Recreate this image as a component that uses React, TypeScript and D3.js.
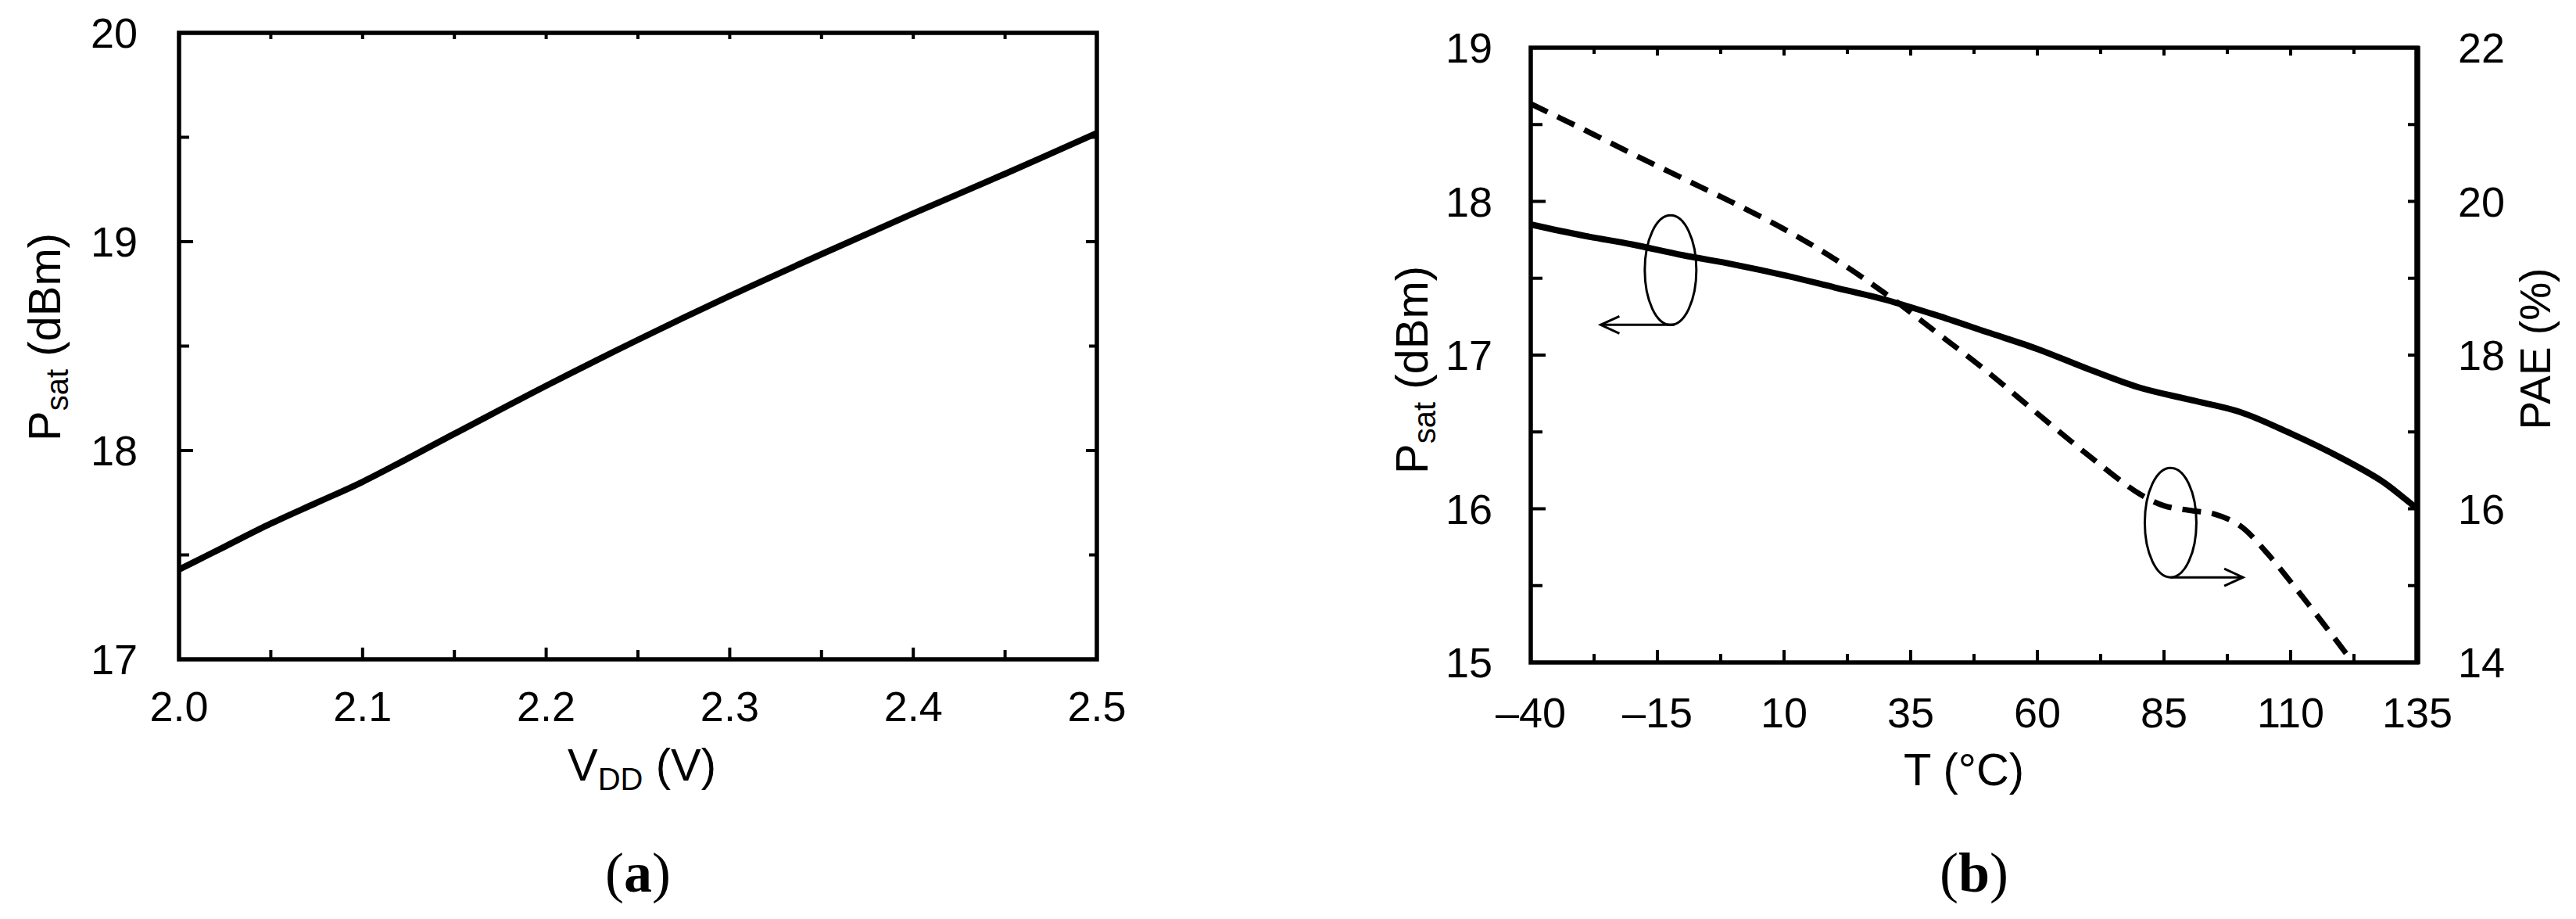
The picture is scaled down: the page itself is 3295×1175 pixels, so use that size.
import React from "react";
import * as d3 from "d3";

// ---------- Data: panel (a) ----------
const VDD = [2.0, 2.025, 2.05, 2.075, 2.1, 2.15, 2.2, 2.25, 2.3, 2.35, 2.4, 2.45, 2.5];
const PSAT_A = [17.43, 17.54, 17.65, 17.75, 17.85, 18.08, 18.31, 18.53, 18.74, 18.94, 19.135, 19.325, 19.52];
const A_XTICKS = [2.0, 2.05, 2.1, 2.15, 2.2, 2.25, 2.3, 2.35, 2.4, 2.45, 2.5];
const A_XLABELS = ["2.0", "2.1", "2.2", "2.3", "2.4", "2.5"];
const A_YTICKS = [17, 17.5, 18, 18.5, 19, 19.5, 20];
const A_YLABELS = [17, 18, 19, 20];

// ---------- Data: panel (b) ----------
const TEMP_PSAT = [-40, -30, -20, -10, 0, 10, 20, 30, 40, 50, 60, 70, 80, 90, 100, 110, 120, 128, 132, 135];
const PSAT_B = [17.85, 17.78, 17.72, 17.65, 17.59, 17.52, 17.44, 17.36, 17.26, 17.15, 17.04, 16.91, 16.79, 16.71, 16.63, 16.49, 16.33, 16.18, 16.08, 16.0];
const TEMP_PAE = [-40, -30, -20, -10, 0, 10, 20, 30, 40, 50, 60, 70, 80, 85, 90, 95, 100, 105, 110, 115, 120, 122.3];
const PAE = [21.27, 20.95, 20.62, 20.3, 19.98, 19.64, 19.25, 18.8, 18.3, 17.79, 17.24, 16.7, 16.2, 16.04, 15.98, 15.93, 15.78, 15.45, 15.05, 14.63, 14.2, 14.0];
const B_XTICKS = [-40, -27.5, -15, -2.5, 10, 22.5, 35, 47.5, 60, 72.5, 85, 97.5, 110, 122.5, 135];
const B_XLABELS = [-40, -15, 10, 35, 60, 85, 110, 135];
const B_YTICKS = [15, 15.5, 16, 16.5, 17, 17.5, 18, 18.5, 19];
const B_YLABELS = [15, 16, 17, 18, 19];
const B_Y2TICKS = [14, 15, 16, 17, 18, 19, 20, 21, 22];
const B_Y2LABELS = [14, 16, 18, 20, 22];

// annotation ellipses (data units: T, Psat) and arrow tips (T)
const ANNOT_T = [-12.4, 86.3];
const ANNOT_P = [17.553, 15.91];
const ANNOT_TIP = [-26.2, 100.6];

const FONT = "'Liberation Sans', Arial, Helvetica, sans-serif";
const TICK_FS = 54;
const TITLE_FS = 58;

const fmtT = (v: number) => (v < 0 ? "\u2013" + Math.abs(v) : String(v));

export default function App() {
  // scales (a)
  const xa = d3.scaleLinear().domain([2.0, 2.5]).range([229, 1403]);
  const ya = d3.scaleLinear().domain([17, 20]).range([843, 42]);
  // scales (b)
  const xb = d3.scaleLinear().domain([-40, 135]).range([1958, 3092]);
  const yb = d3.scaleLinear().domain([15, 19]).range([847, 61]);
  const yb2 = d3.scaleLinear().domain([14, 22]).range([847, 61]);

  const lineA = d3
    .line<number>()
    .x((_, i) => xa(VDD[i]))
    .y((d) => ya(d))
    .curve(d3.curveCatmullRom.alpha(0.5));
  const lineB = d3
    .line<number>()
    .x((_, i) => xb(TEMP_PSAT[i]))
    .y((d) => yb(d))
    .curve(d3.curveCatmullRom.alpha(0.5));
  const lineB2 = d3
    .line<number>()
    .x((_, i) => xb(TEMP_PAE[i]))
    .y((d) => yb2(d))
    .curve(d3.curveCatmullRom.alpha(0.5));

  const isMult = (v: number, m: number) => Math.abs(v / m - Math.round(v / m)) < 1e-6;

  const [ax0, ax1] = xa.range();
  const [ay0, ay1] = ya.range(); // bottom, top
  const [bx0, bx1] = xb.range();
  const [by0, by1] = yb.range();

  const tickStroke = 4;
  const axisStroke = 5.5;

  return (
    <svg
      width={3295}
      height={1175}
      style={{ position: "absolute", left: 0, top: 0, background: "#fff" }}
      fontFamily={FONT}
    >
      <rect x={0} y={0} width={3295} height={1175} fill="#fff" />

      {/* ================= Panel (a) ================= */}
      <g stroke="#000" strokeWidth={tickStroke}>
        {A_XTICKS.map((v) => {
          const major = isMult(v, 0.1);
          return (
            <g key={"axt" + v}>
              <line x1={xa(v)} x2={xa(v)} y1={ay0} y2={ay0 - (major ? 15 : 12)} />
              <line x1={xa(v)} x2={xa(v)} y1={ay1} y2={ay1 + 8} />
            </g>
          );
        })}
        {A_YTICKS.map((v) => {
          const major = isMult(v, 1);
          return (
            <g key={"ayt" + v}>
              <line x1={ax0} x2={ax0 + (major ? 18 : 13)} y1={ya(v)} y2={ya(v)} />
              <line x1={ax1} x2={ax1 - (major ? 14 : 10)} y1={ya(v)} y2={ya(v)} />
            </g>
          );
        })}
      </g>
      <rect
        x={ax0}
        y={ay1}
        width={ax1 - ax0}
        height={ay0 - ay1}
        fill="none"
        stroke="#000"
        strokeWidth={axisStroke}
      />
      <path d={lineA(PSAT_A) || ""} fill="none" stroke="#000" strokeWidth={8} strokeLinejoin="round" />

      {A_XLABELS.map((s) => (
        <text key={"axl" + s} x={xa(+s)} y={922} fontSize={TICK_FS} textAnchor="middle" fill="#000">
          {s}
        </text>
      ))}
      {A_YLABELS.map((v) => (
        <text key={"ayl" + v} x={176} y={ya(v)} fontSize={TICK_FS} textAnchor="end" dominantBaseline="central" fill="#000">
          {v}
        </text>
      ))}
      <text x={(ax0 + ax1) / 2 + 5} y={998} fontSize={TITLE_FS} textAnchor="middle" fill="#000">
        V
        <tspan fontSize={40} dy={12}>DD</tspan>
        <tspan dy={-12}> (V)</tspan>
      </text>
      <text
        transform={`translate(77, 431) rotate(-90)`}
        fontSize={TITLE_FS}
        textAnchor="middle"
        fill="#000"
      >
        P<tspan fontSize={40} dy={10}>sat</tspan>
        <tspan dy={-10}> (dBm)</tspan>
      </text>
      <text x={(ax0 + ax1) / 2} y={1140} fontSize={72} textAnchor="middle" fontFamily="'Liberation Serif', 'Times New Roman', serif" fill="#000">
        (<tspan fontWeight="bold">a</tspan>)
      </text>

      {/* ================= Panel (b) ================= */}
      <g stroke="#000" strokeWidth={tickStroke}>
        {B_XTICKS.map((v) => {
          const major = isMult(v + 40, 25);
          return (
            <g key={"bxt" + v}>
              <line x1={xb(v)} x2={xb(v)} y1={by0} y2={by0 - (major ? 16 : 11)} />
              <line x1={xb(v)} x2={xb(v)} y1={by1} y2={by1 + (major ? 10 : 8)} />
            </g>
          );
        })}
        {B_YTICKS.map((v) => {
          const major = isMult(v, 1);
          return <line key={"byt" + v} x1={bx0} x2={bx0 + (major ? 19 : 15)} y1={yb(v)} y2={yb(v)} />;
        })}
        {B_Y2TICKS.map((v) => (
          <line key={"by2t" + v} x1={bx1} x2={bx1 - 12} y1={yb2(v)} y2={yb2(v)} />
        ))}
      </g>
      <rect
        x={bx0}
        y={by1}
        width={bx1 - bx0}
        height={by0 - by1}
        fill="none"
        stroke="#000"
        strokeWidth={axisStroke}
      />
      <line x1={bx1} x2={bx1} y1={by1 - 2} y2={by0 + 2} stroke="#000" strokeWidth={7.5} />

      <path d={lineB(PSAT_B) || ""} fill="none" stroke="#000" strokeWidth={8} strokeLinejoin="round" />
      <path
        d={lineB2(PAE) || ""}
        fill="none"
        stroke="#000"
        strokeWidth={7}
        strokeDasharray="24 14"
      />

      {/* annotations */}
      {ANNOT_T.map((t, i) => {
        const cx = xb(t);
        const cy = yb(ANNOT_P[i]);
        const rx = 33;
        const ry = 70;
        const bx = cx + (i === 0 ? 5 : 0);
        const by = cy + ry;
        const tip = xb(ANNOT_TIP[i]);
        const dir = tip < bx ? 1 : -1;
        return (
          <g key={"ann" + i} fill="none" stroke="#000" strokeWidth={3}>
            <ellipse cx={cx} cy={cy} rx={rx} ry={ry} />
            <line x1={bx} x2={tip} y1={by} y2={by} />
            <polyline points={`${tip + dir * 24},${by - 11} ${tip},${by} ${tip + dir * 24},${by + 11}`} />
          </g>
        );
      })}

      {B_XLABELS.map((v) => (
        <text key={"bxl" + v} x={xb(v)} y={930} fontSize={TICK_FS} textAnchor="middle" fill="#000">
          {fmtT(v)}
        </text>
      ))}
      {B_YLABELS.map((v) => (
        <text key={"byl" + v} x={1909} y={yb(v)} fontSize={TICK_FS} textAnchor="end" dominantBaseline="central" fill="#000">
          {v}
        </text>
      ))}
      {B_Y2LABELS.map((v) => (
        <text key={"by2l" + v} x={3144} y={yb2(v)} fontSize={TICK_FS} textAnchor="start" dominantBaseline="central" fill="#000">
          {v}
        </text>
      ))}
      <text x={(bx0 + bx1) / 2 - 13} y={1004} fontSize={TITLE_FS} textAnchor="middle" fill="#000">
        T (°C)
      </text>
      <text
        transform={`translate(1826, 473) rotate(-90)`}
        fontSize={TITLE_FS}
        textAnchor="middle"
        fill="#000"
      >
        P<tspan fontSize={40} dy={10}>sat</tspan>
        <tspan dy={-10}> (dBm)</tspan>
      </text>
      <text
        transform={`translate(3262, 446) rotate(-90)`}
        fontSize={55}
        textAnchor="middle"
        fill="#000"
      >
        PAE (%)
      </text>
      <text x={(bx0 + bx1) / 2} y={1140} fontSize={72} textAnchor="middle" fontFamily="'Liberation Serif', 'Times New Roman', serif" fill="#000">
        (<tspan fontWeight="bold">b</tspan>)
      </text>
    </svg>
  );
}
